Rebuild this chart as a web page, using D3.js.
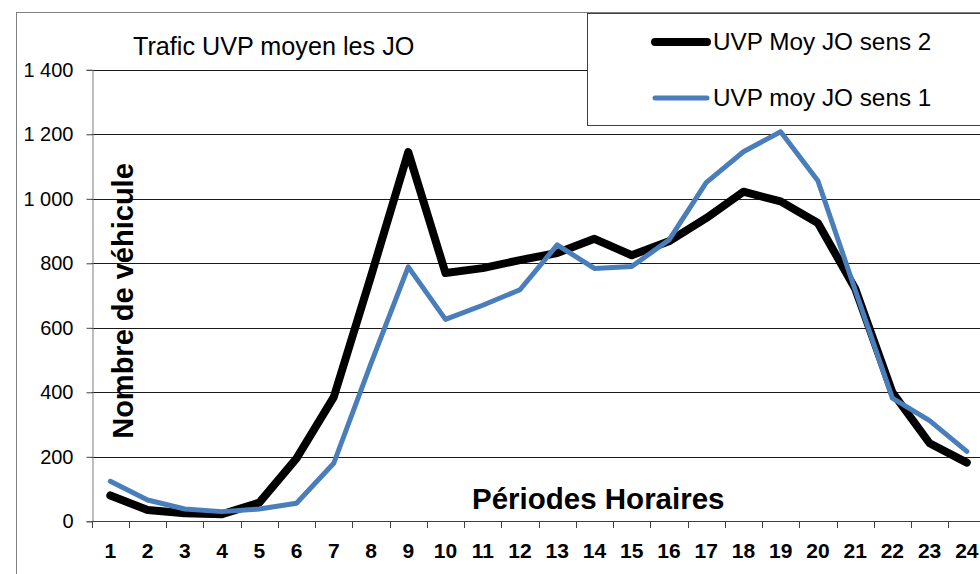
<!DOCTYPE html>
<html>
<head>
<meta charset="utf-8">
<script src="https://cdn.jsdelivr.net/npm/d3@7"></script>
<style>
  html, body { margin: 0; padding: 0; background: #fff; overflow: hidden; }
  svg { display: block; font-family: "Liberation Sans", Arial, sans-serif; }
</style>
</head>
<body>
<div id="chart"></div>
<script>
// periods 1..24
var periodes = d3.range(1, 25)
var yTicks = [0, 200, 400, 600, 800, 1000, 1200, 1400]

// values
var sens2 = [80, 35, 25, 22, 58, 195, 385, 760, 1145, 770, 785, 810, 832, 876, 825, 868, 940, 1022, 992, 925, 722, 400, 242, 182]
var sens1 = [124, 66, 38, 30, 38, 56, 180, 490, 789, 626, 670, 718, 857, 784, 790, 872, 1050, 1146, 1208, 1056, 718, 382, 312, 217]

var series = [
  { name: "UVP Moy JO sens 2", values: sens2, color: "#000000", width: 8 },
  { name: "UVP moy JO sens 1", values: sens1, color: "#4a7ebb", width: 5 }
]

var width = 980, height = 574
var plot = { left: 91.7, top: 69.8, bottom: 521.3, step: 37.24 }

var svg = d3.select("#chart").append("svg")
  .attr("width", width)
  .attr("height", height)

var x = d3.scaleBand()
  .domain(periodes)
  .range([plot.left, plot.left + plot.step * periodes.length])
  .padding(0)

var y = d3.scaleLinear()
  .domain([0, 1400])
  .range([plot.bottom, plot.top])

// outer chart frame (runs past the window on right and bottom)
svg.append("rect")
  .attr("x", 16.5).attr("y", 12.5)
  .attr("width", 1200).attr("height", 800)
  .attr("fill", "none")
  .attr("stroke", "#7f7f7f")

// gridlines
svg.append("g")
  .selectAll("line")
  .data(yTicks.filter(function (d) { return d > 0 }))
  .join("line")
    .attr("x1", plot.left).attr("x2", width)
    .attr("y1", function (d) { return Math.round(y(d)) + 0.5 })
    .attr("y2", function (d) { return Math.round(y(d)) + 0.5 })
    .attr("stroke", "#1a1a1a")
    .attr("stroke-width", 1)

// y axis
var yAxis = svg.append("g")
  .attr("transform", "translate(" + (Math.round(plot.left) + 0.5) + ",0)")
  .call(d3.axisLeft(y).tickValues(yTicks).tickSize(6).tickPadding(13)
    .tickFormat(function (d) { return d >= 1000 ? Math.floor(d / 1000) + " " + d3.format("03d")(d % 1000) : d }))
yAxis.select(".domain").attr("stroke", "#7f7f7f")
yAxis.selectAll(".tick line").attr("stroke", "#404040")
yAxis.selectAll(".tick text")
  .attr("font-size", 20)
  .attr("font-family", "'Liberation Sans', Arial, sans-serif")
  .attr("fill", "#000")

// x axis: labels in the middle of each band, ticks on the band boundaries
var xAxis = svg.append("g")
  .attr("transform", "translate(0," + (Math.round(plot.bottom) + 0.5) + ")")
  .call(d3.axisBottom(x).tickSize(0).tickPadding(22))
xAxis.select(".domain").remove()
xAxis.selectAll(".tick text")
  .attr("font-size", 21)
  .attr("font-weight", "bold")
  .attr("font-family", "'Liberation Sans', Arial, sans-serif")
  .attr("fill", "#000")

svg.append("line")
  .attr("x1", plot.left).attr("x2", width)
  .attr("y1", Math.round(plot.bottom) + 0.5).attr("y2", Math.round(plot.bottom) + 0.5)
  .attr("stroke", "#404040")

svg.append("g")
  .selectAll("line")
  .data(periodes.concat([25]))
  .join("line")
    .attr("x1", function (d) { return Math.round(d <= 24 ? x(d) : x(24) + x.step()) + 0.5 })
    .attr("x2", function (d) { return Math.round(d <= 24 ? x(d) : x(24) + x.step()) + 0.5 })
    .attr("y1", Math.round(plot.bottom))
    .attr("y2", Math.round(plot.bottom) + 7)
    .attr("stroke", "#404040")

// series lines
var line = d3.line()
  .x(function (d, i) { return x(periodes[i]) + x.bandwidth() / 2 })
  .y(function (d) { return y(d) })

svg.append("g")
  .selectAll("path")
  .data(series)
  .join("path")
    .attr("d", function (s) { return line(s.values) })
    .attr("fill", "none")
    .attr("stroke", function (s) { return s.color })
    .attr("stroke-width", function (s) { return s.width })
    .attr("stroke-linejoin", "round")
    .attr("stroke-linecap", "round")

// titles
svg.append("text")
  .attr("x", 133).attr("y", 55)
  .attr("font-size", 25.2)
  .text("Trafic UVP moyen les JO")

svg.append("text")
  .attr("x", 472).attr("y", 509)
  .attr("font-size", 29.5)
  .attr("font-weight", "bold")
  .text("Périodes Horaires")

svg.append("text")
  .attr("transform", "translate(133,301) rotate(-90)")
  .attr("text-anchor", "middle")
  .attr("font-size", 29)
  .attr("font-weight", "bold")
  .text("Nombre de véhicule")

// legend
var legend = svg.append("g")
legend.append("rect")
  .attr("x", 587.5).attr("y", 13.5)
  .attr("width", 500).attr("height", 112)
  .attr("fill", "#fff")
  .attr("stroke", "#404040")

var legendRows = [42, 98]
series.forEach(function (s, i) {
  legend.append("line")
    .attr("x1", 655).attr("x2", 707)
    .attr("y1", legendRows[i]).attr("y2", legendRows[i])
    .attr("stroke", s.color)
    .attr("stroke-width", s.width)
    .attr("stroke-linecap", "round")
  legend.append("text")
    .attr("x", 713).attr("y", legendRows[i] + 7.5)
    .attr("font-size", 24.3)
    .text(s.name)
})
</script>
</body>
</html>
